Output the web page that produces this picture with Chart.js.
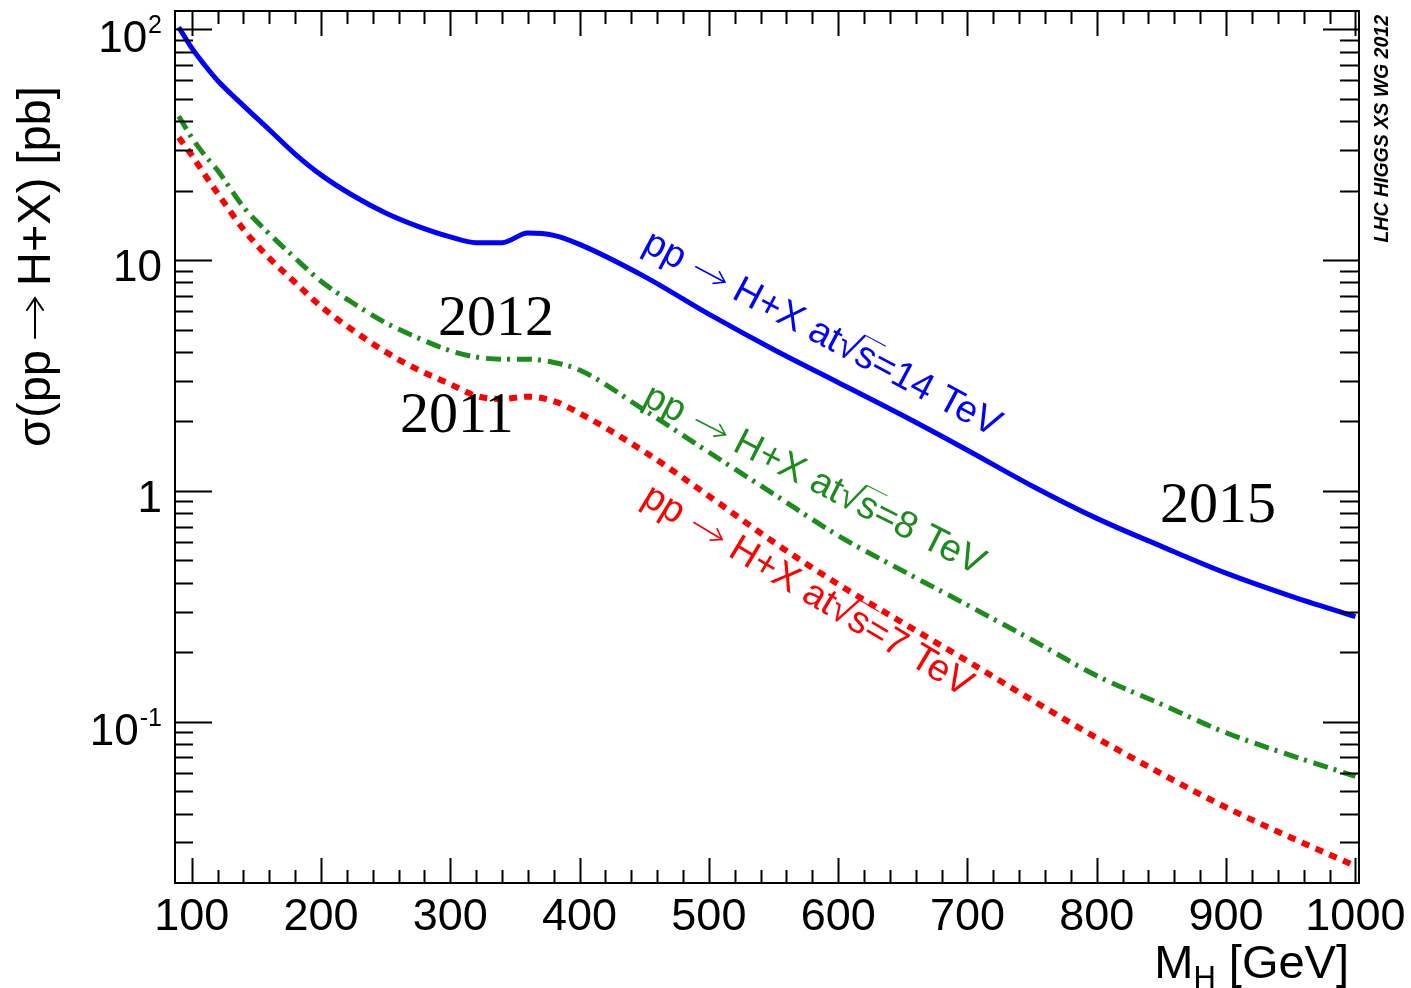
<!DOCTYPE html>
<html>
<head>
<meta charset="utf-8">
<script src="https://cdn.jsdelivr.net/npm/chart.js@4.4.0/dist/chart.umd.min.js"></script>
<style>
  html, body { margin: 0; padding: 0; background: #fff; }
  #wrap { width: 1411px; height: 988px; }
</style>
</head>
<body>
<div id="wrap"><canvas id="xsChart" width="1411" height="988"></canvas></div>
<script>
// Higgs mass points [GeV]
const massPoints = [90, 100, 110, 120, 140, 160, 180, 200, 225, 250, 275, 300, 320, 340, 360, 380, 400,
                    450, 500, 550, 600, 650, 700, 750, 800, 850, 900, 950, 1000];
// sigma(pp -> H+X) [pb]
const xs14TeV = [102, 83, 70, 60, 46.7, 36.7, 28.8, 23.4, 19.0, 16.0, 14.0, 12.6, 11.9, 11.9, 13.1, 12.8, 11.7,
                 8.5, 5.83, 4.1, 2.95, 2.12, 1.5, 1.05, 0.76, 0.575, 0.44, 0.35, 0.285];
const xs8TeV = [42, 34, 28.5, 24.5, 17, 13, 10.2, 8.1, 6.5, 5.35, 4.6, 4.05, 3.8, 3.72, 3.72, 3.6, 3.34,
                2.24, 1.47, 0.97, 0.64, 0.45, 0.32, 0.226, 0.158, 0.119, 0.0895, 0.0715, 0.058];
const xs7TeV = [34, 28.5, 23.5, 19.5, 13.6, 10.2, 8.0, 6.3, 4.95, 4.0, 3.35, 2.9, 2.58, 2.5, 2.56, 2.45, 2.17,
                1.48, 0.95, 0.6, 0.394, 0.268, 0.183, 0.124, 0.085, 0.0595, 0.0425, 0.0315, 0.0237];

// axis ticks
const xTickLabels = [100, 200, 300, 400, 500, 600, 700, 800, 900, 1000];
const yTickValues = [0.1, 1, 10, 100];
const yTickLabels = [['10', '-1'], ['1', ''], ['10', ''], ['10', '2']];

const BLUE = '#0000ff';
const GREEN = '#1c8c1c';
const RED = '#ff0000';
const SANS = '"Liberation Sans", Arial, Helvetica, sans-serif';
const SERIF = '"Liberation Serif", "Times New Roman", serif';

function toPoints(vals) {
    return massPoints.map((m, i) => ({ x: m, y: vals[i] }));
}

// thin ROOT-like right arrow, starting at x0 on baseline 0
function drawArrow(ctx, x0, len, mid, lw) {
    ctx.save();
    ctx.lineWidth = lw;
    ctx.lineCap = 'round';
    ctx.beginPath();
    ctx.moveTo(x0, mid);
    ctx.lineTo(x0 + len, mid);
    ctx.moveTo(x0 + len - len * 0.3, mid - len * 0.2);
    ctx.lineTo(x0 + len, mid);
    ctx.lineTo(x0 + len - len * 0.3, mid + len * 0.2);
    ctx.stroke();
    ctx.restore();
}

// pp -> H+X at sqrt(s)=N TeV, rotated along the curve
function drawProcessLabel(ctx, x, y, deg, color, energy) {
    ctx.save();
    ctx.translate(x, y);
    ctx.rotate(deg * Math.PI / 180);
    ctx.fillStyle = color;
    ctx.strokeStyle = color;
    ctx.font = '38px ' + SANS;
    ctx.textAlign = 'left';
    ctx.textBaseline = 'alphabetic';
    let cx = 0;
    const put = (s) => { ctx.fillText(s, cx, 0); cx += ctx.measureText(s).width; };
    put('pp');
    cx += 14;
    drawArrow(ctx, cx, 33, -11, 1.6);
    cx += 33 + 12;
    put('H+X at');
    put('\u221A');
    const sx = cx;
    put('s');
    ctx.lineWidth = 1;
    ctx.beginPath();
    ctx.moveTo(sx - 1, -30);
    ctx.lineTo(cx + 3, -30);
    ctx.stroke();
    put('=' + energy + ' TeV');
    ctx.restore();
}

const rootFrame = {
    id: 'rootFrame',
    afterDraw(chart) {
        const { ctx, chartArea: a, scales: { x, y } } = chart;
        ctx.save();
        ctx.strokeStyle = '#000';
        ctx.lineWidth = 2;
        ctx.strokeRect(a.left, a.top, a.right - a.left, a.bottom - a.top);

        // x ticks (bottom + top, inside)
        ctx.beginPath();
        for (let m = 20; m <= 1000; m += 20) {
            if (m < x.min || m > x.max) continue;
            const px = Math.round(x.getPixelForValue(m)) + 0.5;
            const len = (m % 100 === 0) ? 25 : 13;
            ctx.moveTo(px, a.bottom); ctx.lineTo(px, a.bottom - len);
            ctx.moveTo(px, a.top); ctx.lineTo(px, a.top + len);
        }
        // y ticks (left + right, inside)
        for (let dec = 0.01; dec < 1000; dec *= 10) {
            for (let k = 1; k <= 9; k++) {
                const v = k * dec;
                if (v < y.min * 1.001 || v > y.max) continue;
                const py = Math.round(y.getPixelForValue(v)) + 0.5;
                const llen = (k === 1) ? 37 : 18;
                const rlen = (k === 1) ? 36 : 19;
                ctx.moveTo(a.left, py); ctx.lineTo(a.left + llen, py);
                ctx.moveTo(a.right, py); ctx.lineTo(a.right - rlen, py);
            }
        }
        ctx.stroke();

        // x tick labels
        ctx.fillStyle = '#000';
        ctx.font = '45px ' + SANS;
        ctx.textAlign = 'center';
        ctx.textBaseline = 'alphabetic';
        xTickLabels.forEach(m => {
            ctx.fillText(String(m), x.getPixelForValue(m), 930);
        });

        // y tick labels with superscripts
        yTickValues.forEach((v, i) => {
            const [base, sup] = yTickLabels[i];
            const py = y.getPixelForValue(v);
            const right = 162;
            ctx.textAlign = 'left';
            ctx.font = '25px ' + SANS;
            const sw = sup ? ctx.measureText(sup).width : 0;
            ctx.font = '44px ' + SANS;
            const bw = ctx.measureText(base).width;
            const bx = right - sw - bw - (sup ? 1 : 0);
            const baseY = py + (sup ? 23 : 21);
            ctx.fillText(base, bx, baseY);
            if (sup) {
                ctx.font = '25px ' + SANS;
                ctx.fillText(sup, right - sw, baseY - 19);
            }
        });

        // y axis title, with a drawn arrow
        ctx.save();
        ctx.translate(50, 447);
        ctx.rotate(-Math.PI / 2);
        ctx.font = '47px ' + SANS;
        ctx.textAlign = 'left';
        let tx0 = 0;
        ctx.fillText('\u03C3(pp', tx0, 0);
        tx0 += ctx.measureText('\u03C3(pp').width + 12;
        drawArrow(ctx, tx0, 40, -15, 2);
        tx0 += 40 + 12;
        ctx.fillText('H+X) [pb]', tx0, 0);
        ctx.restore();

        ctx.textAlign = 'left';
        ctx.font = '47px ' + SANS;
        const wM = ctx.measureText('M').width;
        const wG = ctx.measureText(' [GeV]').width;
        ctx.font = '31px ' + SANS;
        const wH = ctx.measureText('H').width;
        let tx = 1349 - (wM + wH + wG);
        ctx.font = '47px ' + SANS;
        ctx.fillText('M', tx, 978); tx += wM;
        ctx.font = '31px ' + SANS;
        ctx.fillText('H', tx, 988); tx += wH;
        ctx.font = '47px ' + SANS;
        ctx.fillText(' [GeV]', tx, 978);

        // working group tag
        ctx.save();
        ctx.translate(1388, 15);
        ctx.rotate(-Math.PI / 2);
        ctx.font = 'italic bold 19.5px ' + SANS;
        ctx.textAlign = 'right';
        ctx.fillText('LHC HIGGS XS WG 2012', 0, 0);
        ctx.restore();

        // years
        ctx.font = '58px ' + SERIF;
        ctx.textAlign = 'left';
        ctx.fillText('2012', 438, 335);
        ctx.fillText('2011', 400, 432);
        ctx.fillText('2015', 1160, 522);

        // process labels
        drawProcessLabel(ctx, 641, 250, 28, BLUE, 14);
        drawProcessLabel(ctx, 641, 404, 27, GREEN, 8);
        drawProcessLabel(ctx, 640, 503, 31, RED, 7);

        ctx.restore();
    }
};

const ctx = document.getElementById('xsChart').getContext('2d');
const chart = new Chart(ctx, {
    type: 'line',
    data: {
        datasets: [
            {
                label: '14 TeV',
                data: toPoints(xs14TeV),
                borderColor: BLUE,
                borderWidth: 5,
                cubicInterpolationMode: 'monotone'
            },
            {
                label: '8 TeV',
                data: toPoints(xs8TeV),
                borderColor: GREEN,
                borderWidth: 5,
                borderDash: [15, 6, 3, 7],
                cubicInterpolationMode: 'monotone'
            },
            {
                label: '7 TeV',
                data: toPoints(xs7TeV),
                borderColor: RED,
                borderWidth: 6,
                borderDash: [8, 7],
                cubicInterpolationMode: 'monotone'
            }
        ]
    },
    options: {
        responsive: false,
        animation: false,
        devicePixelRatio: 1,
        layout: { padding: { left: 175, top: 11, right: 52, bottom: 105 } },
        elements: { point: { radius: 0 }, line: { borderCapStyle: 'butt', fill: false } },
        plugins: { legend: { display: false }, tooltip: { enabled: false } },
        scales: {
            x: { type: 'linear', min: 87.1, max: 1002.8, display: false },
            y: { type: 'logarithmic', min: 0.02, max: 120, display: false }
        }
    },
    plugins: [rootFrame]
});
</script>
</body>
</html>
